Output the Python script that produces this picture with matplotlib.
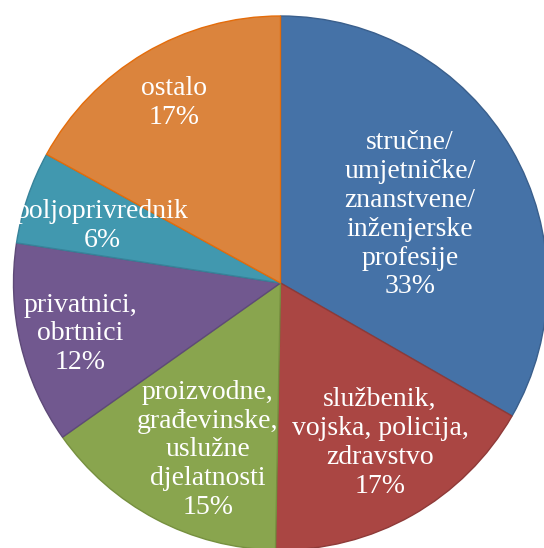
import matplotlib
matplotlib.use("Agg")
import matplotlib.pyplot as plt
from matplotlib.transforms import Bbox

plt.rcParams["font.family"] = ["Liberation Serif", "TeX Gyre Termes", "DejaVu Serif"]

categories = [
    "stručne/\numjetničke/\nznanstvene/\ninženjerske\nprofesije",
    "službenik,\nvojska, policija,\nzdravstvo",
    "proizvodne,\ngrađevinske,\nuslužne\ndjelatnosti",
    "privatnici,\nobrtnici",
    "poljoprivrednik",
    "ostalo",
]
values = [33.3, 17.0, 14.9, 12.2, 5.6, 17.0]
colors = ["#4572A7", "#AA4643", "#89A54E", "#71588F", "#4198AF", "#DB843D"]
edge_colors = ["#3A5F8C", "#8E3A38", "#76903F", "#5E4A78", "#37839A", "#E46C0A"]
label_pos = [(0.485, 0.255), (0.373, -0.599), (-0.272, -0.625),
             (-0.749, -0.191), (-0.669, 0.213), (-0.399, 0.674)]

W, H = 544, 548
cx, cy, r = 280.5, 283.0, 267.0
fig = plt.figure(figsize=(W / 100, H / 100), dpi=100)
ax = fig.add_axes([0, 0, 1, 1])

wedges, _ = ax.pie(values, colors=colors, startangle=90, counterclock=False,
                   radius=1.0, center=(0, 0), frame=True,
                   wedgeprops=dict(linewidth=1.0))
for w, ec in zip(wedges, edge_colors):
    w.set_edgecolor(ec)
ax.set_xlim((0 - cx) / r, (W - cx) / r)
ax.set_ylim((cy - H) / r, (cy - 0) / r)
ax.set_aspect("equal")
ax.axis("off")

total = sum(values)
clip = Bbox.from_extents(16, 0, W, H)
for cat, v, (x, y) in zip(categories, values, label_pos):
    t = ax.text(x, y, f"{cat}\n{v / total * 100:.0f}%", ha="center", va="center",
                multialignment="center", color="white", fontsize=20,
                linespacing=1.2)
    t.set_clip_box(clip)
    t.set_clip_on(True)

fig.savefig("out.png", dpi=100)
